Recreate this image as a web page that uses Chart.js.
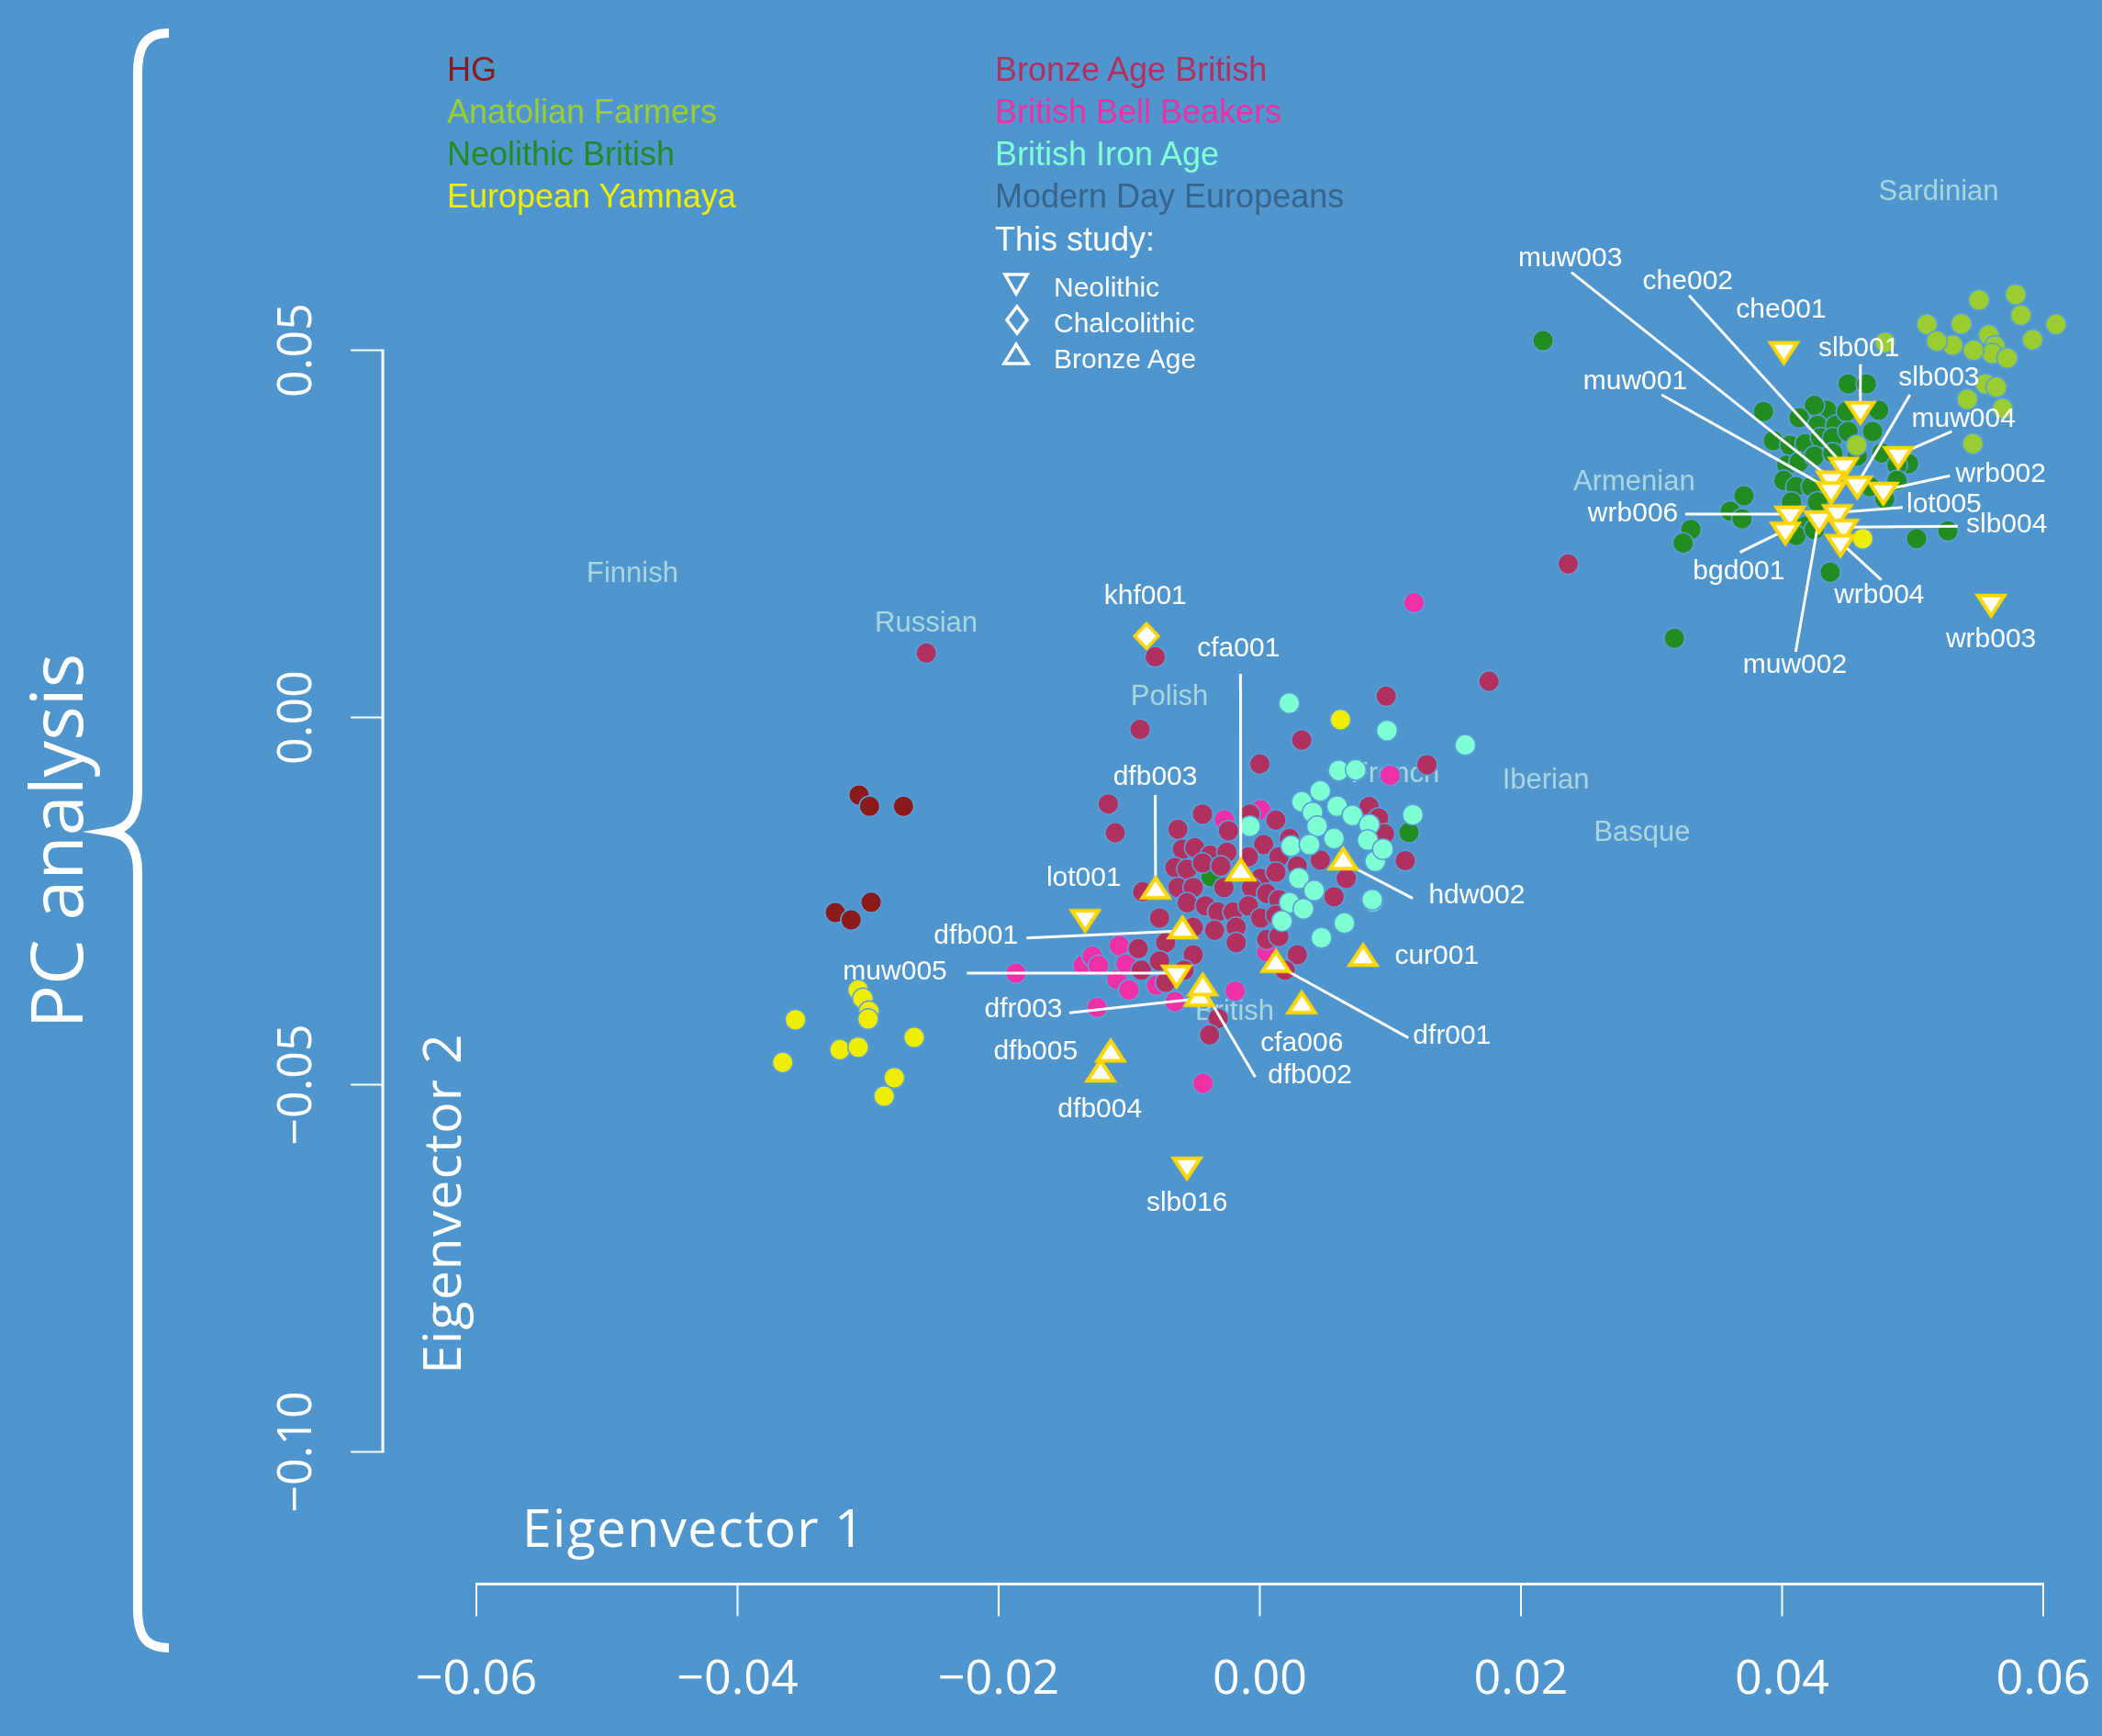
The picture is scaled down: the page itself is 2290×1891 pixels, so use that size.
<!DOCTYPE html>
<html><head><meta charset="utf-8">
<script src="https://cdn.jsdelivr.net/npm/chart.js@4.4.1/dist/chart.umd.min.js"></script>
<style>
html,body{margin:0;padding:0;background:#4f96cf;}
#wrap{position:relative;width:2290px;height:1891px;overflow:hidden;background:#4f96cf;}
#c{position:absolute;left:0;top:0;}
.t{position:absolute;white-space:nowrap;line-height:1;font-family:"Liberation Sans",Arial,sans-serif;}
.lg{font-size:36px;}
.sm{font-size:30px;color:#fff;}
.ax{font-family:"Open Sans",sans-serif;color:#fff;}
.rot{transform:translate(-50%,-50%) rotate(-90deg);}
svg{position:absolute;left:0;top:0;pointer-events:none;}
</style></head>
<body><div id="wrap">
<canvas id="c" width="2290" height="1891"></canvas>
<div class="t lg" style="left:487px;top:57.5px;color:#8B1A1A">HG</div>
<div class="t lg" style="left:487px;top:103.5px;color:#9ACD32">Anatolian Farmers</div>
<div class="t lg" style="left:487px;top:149.5px;color:#228B22">Neolithic British</div>
<div class="t lg" style="left:487px;top:195.5px;color:#EEEE00">European Yamnaya</div>
<div class="t lg" style="left:1084px;top:57.5px;color:#B03060">Bronze Age British</div>
<div class="t lg" style="left:1084px;top:103.5px;color:#EE30A7">British Bell Beakers</div>
<div class="t lg" style="left:1084px;top:149.5px;color:#7FFFD4">British Iron Age</div>
<div class="t lg" style="left:1084px;top:195.5px;color:#36648B">Modern Day Europeans</div>
<div class="t lg" style="left:1084px;top:242.5px;color:#ffffff">This study:</div>
<div class="t sm" style="left:1148px;top:297.6px">Neolithic</div>
<div class="t sm" style="left:1148px;top:336.6px">Chalcolithic</div>
<div class="t sm" style="left:1148px;top:375.6px">Bronze Age</div>
<svg width="2290" height="1891">
<polygon points="1095,299 1119,299 1107,320" fill="none" stroke="#fff" stroke-width="3.5"/>
<polygon points="1108,334 1119,348.5 1108,363 1097,348.5" fill="none" stroke="#fff" stroke-width="3.5"/>
<polygon points="1107,375 1120,396 1094,396" fill="none" stroke="#fff" stroke-width="3.5"/>
</svg>
<div class="t ax" style="left:569px;top:1635px;font-size:57px;letter-spacing:1.3px">Eigenvector 1</div>
<div class="t ax rot" style="left:480px;top:1311px;font-size:57px;letter-spacing:1.1px">Eigenvector 2</div>
<div class="t ax rot" style="left:59px;top:916px;font-size:79px">PC analysis</div>
</div>
<script>
// ---------------- data ----------------
const xTicks = [-0.06, -0.04, -0.02, 0.00, 0.02, 0.04, 0.06];
const yTicks = [0.05, 0.00, -0.05, -0.10];

const hg = [[-0.03069,-0.01056],[-0.02989,-0.01210],[-0.02729,-0.01210],[-0.02977,-0.02515],[-0.03251,-0.02656],[-0.03130,-0.02756]];

const anatolian = [[0.05508,0.05685],[0.05789,0.05760],[0.05829,0.05477],[0.06098,0.05352],[0.05109,0.05352],[0.05372,0.05360],[0.05306,0.05069],[0.05583,0.05206],[0.05630,0.05060],[0.05607,0.04956],[0.05724,0.04894],[0.05918,0.05144],[0.05466,0.04998],[0.05559,0.04540],[0.05641,0.04498],[0.05419,0.04331],[0.05689,0.04206],[0.05461,0.03727],[0.04571,0.03706],[0.04789,0.05106],[0.05185,0.05123]];

const neolithicBritish = [[0.02169,0.05131],[0.03175,0.01079],[0.03858,0.04165],[0.03933,0.03769],[0.03708,0.03019],[0.03603,0.02810],[0.03693,0.02706],[0.03302,0.02560],[0.03242,0.02373],[0.04368,0.01978],[0.05030,0.02435],[0.05270,0.02540],[0.04969,0.03456],
 [0.04505,0.04540],[0.04646,0.04540],[0.04739,0.04185],[0.04341,0.04185],[0.04247,0.04248],[0.04130,0.04081],[0.04271,0.03977],[0.04411,0.03977],[0.04493,0.04165],[0.04060,0.03706],[0.04177,0.03727],[0.04294,0.03810],[0.04388,0.03810],[0.04505,0.03894],[0.04693,0.03894],[0.04763,0.03602],[0.04880,0.03435],[0.04036,0.03435],[0.04130,0.03477],[0.04247,0.03560],[0.04013,0.03227],[0.04107,0.03144],[0.04224,0.03144],[0.04072,0.02935],[0.04271,0.02935],[0.04177,0.02602],[0.04107,0.02477],[0.04247,0.02560],[0.04672,0.03144],[0.04786,0.02977],[0.04880,0.03227],[0.04575,0.03560],[0.04388,0.03602],
 [-0.00374,-0.02169],[0.01142,-0.01565]];

const yamnaya = [[-0.03556,-0.04115],[-0.03654,-0.04698],[-0.03216,-0.04523],[-0.03076,-0.04490],[-0.02647,-0.04356],[-0.02799,-0.04906],[-0.02877,-0.05156],[-0.03076,-0.03710],[-0.03040,-0.03827],[-0.02993,-0.04002],[-0.03000,-0.04106],[0.00618,-0.00030],[0.04617,0.02435]];

const bronzeAgeBritish = [[-0.02554,0.00877],[-0.00801,0.00826],[0.02362,0.02090],[0.01755,0.00492],[-0.00917,-0.00164],[0.00968,0.00291],[0.00321,-0.00308],[0.00000,-0.00633],[0.01280,-0.00643],[-0.01160,-0.01178],[-0.01107,-0.01570],[0.01114,-0.01950],[0.00837,-0.01214],[0.00910,-0.01369],[-0.00319,-0.04098],[-0.00385,-0.04323],
 [-0.00439,-0.01315],[-0.00627,-0.01523],[-0.00240,-0.01544],[-0.00076,-0.01315],[0.00123,-0.01398],[0.00228,-0.01648],[-0.00592,-0.01794],[-0.00498,-0.01773],[-0.00381,-0.01877],[-0.00252,-0.01835],[0.00029,-0.01731],[0.00146,-0.01898],[-0.00650,-0.02044],[-0.00557,-0.02065],[-0.00439,-0.01981],[-0.00299,-0.02023],[-0.00088,-0.01898],[0.00006,-0.02190],[0.00123,-0.02106],[0.00287,-0.02023],[0.00463,-0.01940],[0.00662,-0.02190],[0.00568,-0.02440],[-0.00627,-0.02315],[-0.00510,-0.02315],[-0.00275,-0.02315],[-0.00064,-0.02315],[0.00053,-0.02398],[0.00146,-0.02481],[-0.00768,-0.02731],[-0.00557,-0.02523],[-0.00416,-0.02565],[-0.00322,-0.02648],[-0.00205,-0.02648],[-0.00088,-0.02565],[0.00006,-0.02731],[0.00123,-0.02690],[-0.00721,-0.03065],[-0.00510,-0.02856],[-0.00346,-0.02898],[-0.00181,-0.02856],[-0.00181,-0.03065],[0.00053,-0.03023],[0.00146,-0.02981],[-0.00931,-0.03148],[-0.00908,-0.03440],[-0.00768,-0.03315],[-0.00510,-0.03231],[-0.00580,-0.03440],[0.00287,-0.03231],[0.00193,-0.03440],[-0.00721,-0.03606],[0.00955,-0.01585],[-0.00897,-0.02374]];

const bellBeakers = [[0.01181,0.01564],[0.00997,-0.00789],[0.00006,-0.01258],[-0.00271,-0.01393],[-0.01868,-0.03481],[-0.01247,-0.03950],[-0.00189,-0.03726],[-0.00650,-0.03870],[-0.00435,-0.04981],[-0.01353,-0.03377],[-0.01283,-0.03252],[-0.01236,-0.03377],[-0.01077,-0.03106],[-0.01095,-0.03565],[-0.01002,-0.03710],[-0.01025,-0.03356],[-0.00791,-0.03648],[0.00053,-0.03190]];

const ironAge = [[0.00225,0.00193],[0.00974,-0.00178],[0.01574,-0.00374],[0.00604,-0.00723],[0.00735,-0.00714],[0.01172,-0.01325],[0.00866,-0.02508],[0.00648,-0.02799],[0.00472,-0.03000],[0.00463,-0.01002],[0.00322,-0.01148],[0.00592,-0.01210],[0.00404,-0.01294],[0.00709,-0.01335],[-0.00076,-0.01481],[0.00439,-0.01481],[0.00838,-0.01460],[0.00568,-0.01648],[0.00826,-0.01669],[0.00240,-0.01752],[0.00381,-0.01731],[0.00884,-0.01960],[0.00299,-0.02190],[0.00416,-0.02356],[0.00861,-0.02481],[0.00228,-0.02523],[0.00334,-0.02606],[0.00170,-0.02773],[0.00943,-0.01794]];

const sampleNames  = ['che001','che002','muw003','muw001','slb001','slb003','muw004','wrb002','wrb006','bgd001','muw002','lot005','slb004','wrb004','wrb003','lot001','muw005','slb016','khf001','cfa001','dfb003','hdw002','dfb001','dfr003','dfb002','cfa006','dfr001','cur001','dfb005','dfb004'];
const samplePeriod = ['Neolithic','Neolithic','Neolithic','Neolithic','Neolithic','Neolithic','Neolithic','Neolithic','Neolithic','Neolithic','Neolithic','Neolithic','Neolithic','Neolithic','Neolithic','Neolithic','Neolithic','Neolithic','Chalcolithic','Bronze Age','Bronze Age','Bronze Age','Bronze Age','Bronze Age','Bronze Age','Bronze Age','Bronze Age','Bronze Age','Bronze Age','Bronze Age'];
const sampleX = [0.04013,0.04470,0.04376,0.04376,0.04599,0.04575,0.04891,0.04775,0.04060,0.04025,0.04283,0.04423,0.04470,0.04446,0.05600,-0.01337,-0.00638,-0.00558,-0.00868,-0.00146,-0.00798,0.00638,-0.00592,-0.00463,-0.00437,0.00321,0.00123,0.00791,-0.01142,-0.01220];
const sampleY = [0.05010,0.03435,0.03248,0.03102,0.04194,0.03177,0.03581,0.03094,0.02769,0.02552,0.02706,0.02790,0.02590,0.02385,0.01569,-0.02723,-0.03481,-0.06094,0.01108,-0.02119,-0.02365,-0.01969,-0.02906,-0.03827,-0.03683,-0.03928,-0.03365,-0.03281,-0.04585,-0.04856];
// label anchor (text centre) in data units
const labelX = [0.03993,0.03278,0.02377,0.02875,0.04588,0.05201,0.05390,0.05675,0.02858,0.03669,0.04098,0.05240,0.05720,0.04744,0.05600,-0.01348,-0.02794,-0.00558,-0.00877,-0.00163,-0.00801,0.01662,-0.02174,-0.01810,0.00384,0.00322,0.01472,0.01355,-0.01717,-0.01225];
const labelY = [0.05553,0.05935,0.06248,0.04573,0.05019,0.04623,0.04060,0.03310,0.02769,0.01985,0.00706,0.02903,0.02623,0.01665,0.01060,-0.02190,-0.03460,-0.06615,0.01644,0.00930,-0.00811,-0.02428,-0.02973,-0.03981,-0.04878,-0.04440,-0.04339,-0.03258,-0.04556,-0.05335];
// leader line start (null = no leader line); line runs to the sample point
const leaderX = [null,0.03287,0.02386,0.03077,0.04600,0.04979,0.05300,0.05285,0.03257,0.03677,0.04104,0.04924,0.05345,0.04759,null,null,-0.02244,null,null,-0.00148,-0.00801,0.01172,-0.01787,-0.01459,-0.00035,null,0.01137,null,null,null];
const leaderY = [null,0.05748,0.06060,0.04394,0.04810,0.04394,0.03894,0.03290,0.02769,0.02248,0.00894,0.02860,0.02603,0.01873,null,null,-0.03481,null,null,0.00595,-0.01056,-0.02464,-0.03003,-0.04023,-0.04898,null,-0.04361,null,null,null];

const popNames = ['Sardinian','Armenian','Finnish','Russian','Polish','French','Iberian','Basque','British'];
const popX = [0.05199,0.02867,-0.04805,-0.02555,-0.00692,0.01037,0.02190,0.02928,-0.00193];
const popY = [0.07156,0.03206,0.01956,0.01281,0.00281,-0.00769,-0.00856,-0.01569,-0.04006];

// ---------------- layout constants ----------------
const W = 2290, H = 1891;
const X_ZERO_PX = 1372.5, X_PX_PER_UNIT = 14225, Y_ZERO_PX = 781.5, Y_PX_PER_UNIT = 8000;
const XMIN = -0.08, XMAX = 0.064, YMIN = -0.12, YMAX = 0.07;
const X_AXIS_AT = -0.118;   // y value where the x axis sits
const Y_AXIS_AT = -0.06717; // x value where the y axis sits

function fmt(v) { return (v < 0 ? '\u2212' : '') + Math.abs(v).toFixed(2); }

function makeTri(down) {
  const w = 29, h = 22, lw = 4;
  const c = document.createElement('canvas');
  c.width = 46; c.height = 46;
  const g = c.getContext('2d');
  const cx = 23, cy = 23;
  g.beginPath();
  if (down) { g.moveTo(cx - w/2, cy - h/3); g.lineTo(cx + w/2, cy - h/3); g.lineTo(cx, cy + 2*h/3); }
  else { g.moveTo(cx - w/2, cy + h/3); g.lineTo(cx + w/2, cy + h/3); g.lineTo(cx, cy - 2*h/3); }
  g.closePath();
  g.fillStyle = '#ffffff'; g.fill();
  g.lineJoin = 'miter'; g.lineWidth = lw; g.strokeStyle = '#FFD700'; g.stroke();
  return c;
}
function makeDiamond() {
  const r = 13.5, lw = 3.5;
  const c = document.createElement('canvas');
  c.width = 40; c.height = 40;
  const g = c.getContext('2d');
  g.beginPath();
  g.moveTo(20, 20 - r); g.lineTo(20 + r*0.95, 20); g.lineTo(20, 20 + r); g.lineTo(20 - r*0.95, 20); g.closePath();
  g.fillStyle = '#ffffff'; g.fill();
  g.lineJoin = 'miter'; g.lineWidth = lw; g.strokeStyle = '#FFD700'; g.stroke();
  return c;
}

function drawBrace(ctx) {
  ctx.save();
  ctx.strokeStyle = '#ffffff'; ctx.lineWidth = 10; ctx.lineJoin = 'miter'; ctx.lineCap = 'butt';
  ctx.beginPath();
  ctx.moveTo(184, 36);
  ctx.bezierCurveTo(162, 36, 150, 46, 150, 80);
  ctx.lineTo(150, 862);
  ctx.bezierCurveTo(150, 892, 138, 903, 120, 906);
  ctx.bezierCurveTo(138, 909, 150, 920, 150, 950);
  ctx.lineTo(150, 1752);
  ctx.bezierCurveTo(150, 1786, 162, 1795, 184, 1795);
  ctx.stroke();
  ctx.restore();
}

function drawAxes(chart) {
  const {ctx} = chart; const xs = chart.scales.x, ys = chart.scales.y;
  ctx.save();
  ctx.strokeStyle = '#ffffff'; ctx.fillStyle = '#ffffff';
  const yAx = ys.getPixelForValue(X_AXIS_AT);
  ctx.lineWidth = 3;
  ctx.beginPath();
  ctx.moveTo(xs.getPixelForValue(xTicks[0]) - 1, yAx);
  ctx.lineTo(xs.getPixelForValue(xTicks[xTicks.length - 1]) + 1, yAx);
  ctx.stroke();
  ctx.lineWidth = 2;
  ctx.font = '52px "Open Sans"'; ctx.textAlign = 'center'; ctx.textBaseline = 'alphabetic';
  xTicks.forEach(v => {
    const px = xs.getPixelForValue(v);
    ctx.beginPath(); ctx.moveTo(px, yAx); ctx.lineTo(px, yAx + 35); ctx.stroke();
    ctx.fillText(fmt(v), px, yAx + 119);
  });
  const xAx = xs.getPixelForValue(Y_AXIS_AT);
  ctx.lineWidth = 3;
  ctx.beginPath();
  ctx.moveTo(xAx, ys.getPixelForValue(yTicks[0]) - 1);
  ctx.lineTo(xAx, ys.getPixelForValue(yTicks[yTicks.length - 1]) + 1);
  ctx.stroke();
  ctx.lineWidth = 2;
  yTicks.forEach(v => {
    const py = ys.getPixelForValue(v);
    ctx.beginPath(); ctx.moveTo(xAx, py); ctx.lineTo(xAx - 35, py); ctx.stroke();
    ctx.save();
    ctx.translate(xAx - 78, py); ctx.rotate(-Math.PI / 2);
    ctx.fillText(fmt(v), 0, 0);
    ctx.restore();
  });
  ctx.restore();
}

function drawPopLabels(chart) {
  const {ctx} = chart; const xs = chart.scales.x, ys = chart.scales.y;
  ctx.save();
  ctx.font = '31px "Liberation Sans"'; ctx.fillStyle = '#a9d6de';
  ctx.textAlign = 'center'; ctx.textBaseline = 'middle';
  popNames.forEach((n, i) => ctx.fillText(n, xs.getPixelForValue(popX[i]), ys.getPixelForValue(popY[i])));
  ctx.restore();
}

function drawLeaders(chart) {
  const {ctx} = chart; const xs = chart.scales.x, ys = chart.scales.y;
  ctx.save();
  ctx.strokeStyle = '#ffffff'; ctx.lineWidth = 3; ctx.lineCap = 'butt';
  sampleNames.forEach((n, i) => {
    if (leaderX[i] === null) return;
    ctx.beginPath();
    ctx.moveTo(xs.getPixelForValue(leaderX[i]), ys.getPixelForValue(leaderY[i]));
    ctx.lineTo(xs.getPixelForValue(sampleX[i]), ys.getPixelForValue(sampleY[i]));
    ctx.stroke();
  });
  ctx.restore();
}

function drawSampleLabels(chart) {
  const {ctx} = chart; const xs = chart.scales.x, ys = chart.scales.y;
  ctx.save();
  ctx.font = '30px "Liberation Sans"'; ctx.fillStyle = '#ffffff';
  ctx.textAlign = 'center'; ctx.textBaseline = 'middle';
  sampleNames.forEach((n, i) => ctx.fillText(n, xs.getPixelForValue(labelX[i]), ys.getPixelForValue(labelY[i])));
  ctx.restore();
}

const decor = {
  id: 'decor',
  beforeDraw(chart) { drawBrace(chart.ctx); },
  beforeDatasetsDraw(chart) { drawAxes(chart); drawPopLabels(chart); },
  afterDatasetDraw(chart, args) { if (chart.data.datasets[args.index].label === 'European Yamnaya') drawLeaders(chart); },
  afterDatasetsDraw(chart) { drawSampleLabels(chart); }
};

function pts(arr) { return arr.map(p => ({x: p[0], y: p[1]})); }
function samplePts(period) {
  const out = [];
  sampleNames.forEach((n, i) => { if (samplePeriod[i] === period) out.push({x: sampleX[i], y: sampleY[i]}); });
  return out;
}
function popSet(label, arr, color, order) {
  return {label, data: pts(arr), backgroundColor: color, borderColor: '#5a9fd8', borderWidth: 1.5,
          pointRadius: 11.3, pointStyle: 'circle', order, clip: false};
}

function build() {
  const markDown = makeTri(true), markUp = makeTri(false), markDia = makeDiamond();
  new Chart(document.getElementById('c'), {
    type: 'scatter',
    data: {
      datasets: [
        popSet('HG', hg, '#8B1A1A', 10),
        popSet('Neolithic British', neolithicBritish, '#228B22', 9),
        popSet('Anatolian Farmers', anatolian, '#9ACD32', 8),
        popSet('British Bell Beakers', bellBeakers, '#EE30A7', 7),
        popSet('Bronze Age British', bronzeAgeBritish, '#B03060', 6),
        popSet('British Iron Age', ironAge, '#7FFFD4', 5),
        popSet('European Yamnaya', yamnaya, '#EEEE00', 4),
        {label: 'Neolithic', data: samplePts('Neolithic'), pointStyle: markDown, pointRadius: 14, order: 3, clip: false},
        {label: 'Chalcolithic', data: samplePts('Chalcolithic'), pointStyle: markDia, pointRadius: 14, order: 2, clip: false},
        {label: 'Bronze Age', data: samplePts('Bronze Age'), pointStyle: markUp, pointRadius: 14, order: 1, clip: false}
      ]
    },
    options: {
      responsive: false, animation: false, devicePixelRatio: 1, events: [],
      layout: {autoPadding: false, padding: {
        left: X_ZERO_PX + XMIN * X_PX_PER_UNIT,
        right: W - (X_ZERO_PX + XMAX * X_PX_PER_UNIT),
        top: Y_ZERO_PX - YMAX * Y_PX_PER_UNIT,
        bottom: H - (Y_ZERO_PX - YMIN * Y_PX_PER_UNIT)
      }},
      scales: {
        x: {type: 'linear', min: XMIN, max: XMAX, display: false},
        y: {type: 'linear', min: YMIN, max: YMAX, display: false}
      },
      plugins: {legend: {display: false}, tooltip: {enabled: false}}
    },
    plugins: [decor]
  });
}
Promise.all([document.fonts.load('52px "Open Sans"'), document.fonts.load('30px "Liberation Sans"')])
  .catch(() => {}).then(build);
</script>
</body></html>
